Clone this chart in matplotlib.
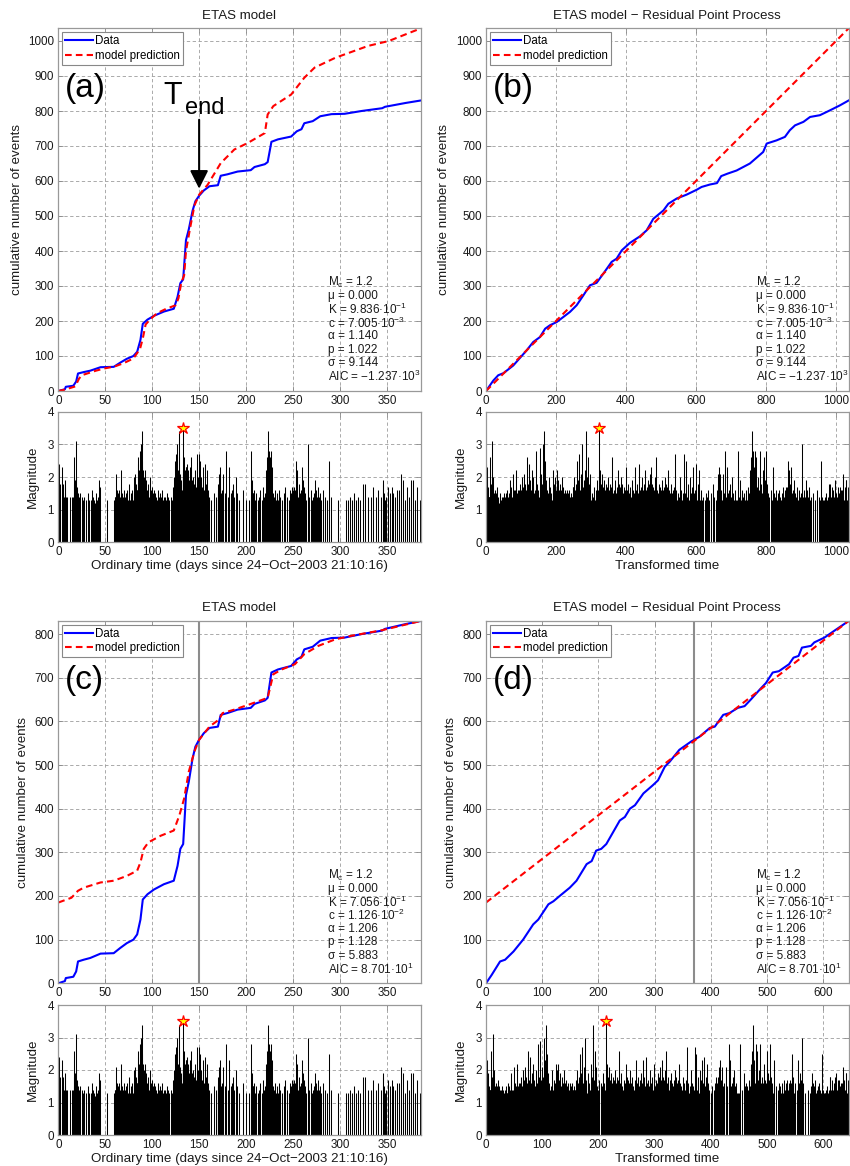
import numpy as np
import matplotlib
matplotlib.use('Agg')
import matplotlib.pyplot as plt

plt.rcParams['font.family'] = ['Liberation Sans', 'DejaVu Sans']
plt.rcParams['mathtext.fontset'] = 'custom'
plt.rcParams['mathtext.rm'] = 'Liberation Sans'
plt.rcParams['mathtext.it'] = 'Liberation Sans:italic'
plt.rcParams['mathtext.bf'] = 'Liberation Sans:bold'

# ---------------- data ----------------
T_END = 150.0

# observed cumulative count vs ordinary time (days)
DATA_T = [0, 7, 8, 16, 19, 21, 27, 34, 45, 59, 66, 73, 80, 84, 87.5, 90, 95, 102, 112.5, 123,
          127, 130, 133, 136, 139, 143, 146, 150, 155, 161, 170, 173, 180, 191, 205, 209, 220, 223, 227, 234,
          248, 254, 259, 262, 271, 279, 291, 305, 323, 345, 348, 370, 386]
DATA_N = [0, 5, 12, 15, 27, 50, 54, 58, 68, 69, 81, 92, 100, 112, 146, 192, 204, 215, 227, 235,
          269, 308, 319, 431, 462, 515, 542, 558, 573, 585, 588, 615, 619, 627, 631, 640, 648, 654, 712, 719,
          727, 742, 748, 765, 771, 785, 791, 792, 800, 808, 812, 823, 830]

# model prediction, fit on [0, T_end] (panel a)
MODEL_A_T = [0, 7, 18, 22, 25, 40, 50, 60, 70, 80, 87, 90, 93, 98, 105, 115, 125, 128, 131, 134,
             136, 140, 145, 150, 159, 173, 187.5, 202, 220, 223, 229, 248, 262, 273, 295, 330, 352, 386]
MODEL_A_V = [0, 4, 13, 35, 45, 58, 65, 70, 80, 93, 120, 150, 190, 205, 222, 235, 245, 265, 310, 330,
             400, 460, 530, 561, 589, 651, 690, 709, 737, 790, 814, 847, 895, 924, 952, 986, 1000, 1036]

# model prediction, fit on whole period (panel c)
MODEL_C_T = [0, 14, 21, 27, 45, 59, 73, 84, 87.5, 91, 96, 109, 123, 129, 134, 139, 145, 150, 161, 171,
             175, 187.5, 205, 223, 229, 238, 252, 262, 277, 295, 312, 345, 386]
MODEL_C_V = [185, 196, 212, 219, 231, 235, 246, 258, 277, 308, 323, 338, 350, 385, 423, 485, 531, 558, 588, 604,
             619, 627, 640, 654, 708, 719, 731, 754, 773, 788, 796, 809, 830]

# observed count vs transformed time (panel b)
RES_B_X = [0, 21, 35, 50, 78, 116, 135, 154, 169, 183, 202, 240, 259, 278, 297, 316, 335, 359, 373, 388,
           411, 440, 459, 478, 507, 521, 545, 573, 602, 616, 640, 660, 672, 690, 716, 754, 792, 802, 830, 854,
           868, 883, 907, 926, 954, 983, 1011, 1036]
RES_B_N = [0, 30, 45, 51, 73, 116, 140, 154, 178, 188, 197, 226, 245, 273, 302, 309, 335, 369, 378, 402,
           423, 442, 459, 492, 516, 535, 550, 561, 575, 583, 590, 594, 614, 621, 630, 650, 683, 707, 716, 726,
           745, 759, 769, 783, 788, 802, 816, 830]

# observed count vs transformed time (panel d)
RES_D_X = [0, 10, 25, 34, 49, 66, 84, 93, 111, 120, 131, 149, 161, 179, 188, 196, 205, 214, 238, 247,
           256, 265, 280, 297, 306, 318, 327, 344, 365, 380, 398, 407, 422, 433, 448, 460, 471, 487, 498, 510,
           521, 539, 547, 556, 562, 578, 584, 602, 620, 645]
RES_D_N = [0, 19, 50, 54, 73, 100, 135, 146, 181, 188, 200, 219, 235, 273, 280, 304, 308, 319, 373, 381,
           400, 408, 435, 454, 465, 496, 508, 535, 554, 565, 585, 588, 615, 619, 631, 635, 650, 673, 688, 712,
           715, 731, 746, 750, 769, 773, 781, 792, 808, 830]

# event magnitudes, in order of occurrence
MAGNITUDES = [
    2.4, 1.8, 2.3, 1.8, 1.4,
    1.9, 1.7, 1.4, 1.3, 1.5, 1.4, 1.3,
    1.4, 1.4, 1.4,
    1.4, 1.3, 2.6, 1.5, 1.8, 1.4, 1.3, 1.9, 1.5, 1.4,
    3.1, 1.3, 1.6, 2.0, 1.4, 1.3, 1.5, 1.4, 1.2, 1.3,
    1.6, 1.4, 1.3, 1.5, 1.2, 1.4, 1.3, 1.7, 1.4, 1.3,
    1.2, 1.5, 1.4, 1.3, 1.4,
    1.4, 1.5, 1.4, 1.3,
    1.4, 1.3, 1.5, 1.3, 1.3, 1.6, 1.4, 1.3, 1.2, 1.5, 1.3, 1.4, 1.9, 1.7,
    1.3,
    1.3, 1.4, 1.4, 1.3, 2.1, 1.6, 1.4, 1.5, 1.3, 1.6,
    1.5, 1.4, 2.2, 1.7, 1.3, 1.5, 1.4, 1.3, 1.6, 1.2,
    1.4, 1.5, 1.3,
    1.6, 1.3, 1.8, 1.3, 1.5, 1.4, 1.6, 1.3, 2.0, 1.5,
    1.4, 1.7, 1.6, 1.3, 2.1, 1.5, 1.4, 1.8, 1.6, 1.3,
    1.5, 1.3, 1.6, 1.4, 2.6, 1.3, 1.5, 1.7, 1.4, 1.3,
    1.8, 1.5, 1.4, 2.4, 1.6, 1.3, 1.5, 1.9, 1.4, 1.3,
    1.6, 1.5, 2.2, 1.4, 1.3, 1.7, 1.5, 1.4, 2.0, 1.3,
    1.5, 1.6, 1.4, 2.8, 1.3, 1.5, 1.8, 1.4, 1.6, 1.3,
    1.4, 2.9, 1.5, 1.3, 1.7, 1.4, 1.6, 2.1, 1.3, 1.5,
    1.4, 1.8, 1.3, 1.6, 3.0, 1.5, 1.4, 1.3, 2.3, 1.6,
    3.4, 1.5, 1.4, 2.5, 1.3, 1.7, 1.5, 1.4, 1.9, 1.3,
    1.6, 1.4, 1.5, 2.0, 1.3, 1.4, 1.7, 1.5, 1.3, 1.6,
    2.2, 1.8, 2.0, 1.6, 1.5, 2.2, 1.7, 1.4, 1.9, 1.6,
    1.5, 1.3, 1.8, 1.6, 1.4, 1.5, 2.0, 1.3, 1.6, 1.7,
    1.4, 1.5, 1.3,
    1.6, 1.5, 1.4, 1.3, 1.6, 1.4, 1.3, 1.5, 1.4, 1.6,
    1.3, 1.4, 1.4, 1.3, 1.5, 1.4, 1.3, 1.4, 1.3, 1.7,
    1.7, 1.4, 1.3, 2.0, 1.5, 1.6, 1.3, 1.4, 1.8, 1.5,
    1.3, 2.5, 1.4, 1.6, 1.5, 1.3, 1.9, 1.4, 1.5, 1.7,
    1.3, 2.7, 1.4, 1.6, 1.3, 1.5, 1.8, 1.4, 2.1, 1.3,
    1.5, 1.4, 1.6, 3.0, 1.3, 1.5, 1.7, 1.4, 1.3, 1.9,
    1.5, 1.6, 1.4, 2.2, 1.3, 1.5, 1.4, 1.8, 1.6, 1.3,
    3.4, 1.4, 1.5, 2.0, 1.3, 1.6, 1.4, 1.7, 1.5, 1.3,
    2.6, 1.4, 1.5, 1.3, 1.8, 1.6, 1.4, 2.1, 1.3, 1.5,
    1.4, 1.7, 1.3, 1.6, 1.5, 1.4, 1.9, 1.3, 1.5, 1.6,
    1.4, 1.3, 2.0, 1.5,
    3.5, 2.2, 1.6, 1.4, 2.0, 1.5, 1.3, 1.8, 1.4, 1.6,
    1.3, 1.5, 2.1, 1.4, 1.3, 1.7, 1.5, 1.4, 1.6, 1.3,
    1.9, 1.4, 1.5, 1.3, 1.6, 1.4, 1.8, 1.3, 1.5, 1.4,
    1.7, 1.3, 1.6, 1.5, 1.4, 2.0, 1.3, 1.5, 1.4, 1.6,
    1.3, 1.8, 1.5, 1.4, 1.3, 1.7, 1.6, 1.4, 1.5, 1.3,
    2.6, 1.4, 1.5, 1.3, 1.6, 1.4, 1.9, 1.5, 1.3, 1.4,
    1.7, 1.5, 1.3, 1.6, 1.4, 2.2, 1.3, 1.5, 1.4, 1.8,
    1.6, 1.3, 1.5, 1.4, 1.7, 1.3, 1.6, 1.5, 1.4, 2.0,
    1.3, 1.5, 1.4, 1.6, 1.8, 1.3, 1.5, 1.4, 1.7, 1.3,
    1.6, 1.4, 1.5, 2.3, 1.3, 1.4, 1.6, 1.5, 1.3, 1.8,
    1.4, 1.5, 1.3, 1.7, 1.6, 1.4, 1.3, 1.5, 1.9, 1.4,
    1.6, 1.3,
    1.5, 2.3, 1.4, 1.6, 1.3, 1.8, 1.5, 1.4, 2.4, 1.3,
    1.6, 1.5, 1.4, 1.7, 1.3, 1.5, 2.0, 1.4, 1.6, 1.3,
    1.8, 1.5, 1.4, 1.3, 2.2, 1.6, 1.4, 1.5, 1.3, 1.7,
    1.4, 1.6, 1.3, 1.9, 1.5, 1.4, 1.6, 1.3, 1.5, 1.8,
    1.4, 1.3, 1.6, 1.5, 2.1, 1.4, 1.3, 1.7, 1.5, 1.6,
    2.3, 1.4, 1.3, 1.5, 1.6, 1.4, 1.8, 1.3, 1.5, 1.4,
    1.7, 1.3, 1.6, 1.5, 2.0, 1.4, 1.3, 1.5, 2.6, 1.4,
    1.6, 1.3, 1.5, 1.8, 1.4, 1.3, 1.7, 1.5, 1.6, 1.4,
    1.3, 1.9, 1.5, 1.4, 1.6, 1.3, 1.5, 1.7, 1.4, 1.3,
    2.0, 1.5, 1.6, 1.4, 1.3, 1.8, 1.5, 1.4, 1.6, 1.3,
    1.7, 1.5, 1.4, 2.2, 1.3, 1.6, 1.5, 1.4, 1.3, 1.8,
    1.5, 1.6, 1.4, 1.3, 1.7, 1.5, 2.7, 1.4, 1.6, 1.3,
    1.5, 1.4, 2.0, 1.6, 1.3, 1.5, 1.4,
    2.7, 1.5, 2.5, 1.4, 1.8, 1.6, 1.3, 2.0, 1.5, 1.4,
    1.7, 1.3, 2.3, 1.5, 1.6, 1.4, 2.4, 1.3, 1.5, 1.8,
    1.4, 2.2, 1.3, 1.6, 1.5, 1.3, 1.4,
    1.3, 1.5, 1.4, 1.6, 1.3, 1.5, 1.8, 1.4, 1.3, 1.6,
    1.5, 1.4, 1.8, 1.3, 1.5, 2.1, 1.4, 1.6, 1.3, 1.5,
    2.3, 1.4, 1.7, 1.5, 1.3, 2.1, 1.6, 1.4, 1.5, 1.3,
    1.6, 2.1, 1.5, 2.8, 1.4, 2.3, 1.5, 1.6, 1.8, 1.4,
    2.0, 1.5, 1.3, 1.6, 1.3, 1.3,
    1.3, 2.8, 1.4, 1.9, 1.5, 1.3, 1.5, 1.6, 1.4, 1.3,
    1.5, 1.3, 1.4, 1.6, 1.3, 1.7, 1.4, 1.5, 2.2, 1.3,
    1.6, 2.6, 1.5,
    3.4, 1.6, 2.8, 1.5, 1.4, 2.3, 1.6, 1.3, 2.8, 1.5,
    1.4, 2.6, 1.3, 1.7, 1.5, 1.4, 2.0, 1.6, 1.3, 1.5,
    2.8, 1.4, 1.6, 1.3, 1.8, 1.5, 1.4, 1.6, 1.3, 2.2,
    1.5, 1.4, 1.7, 1.3, 1.6, 1.5, 2.6, 1.4, 1.3, 1.5,
    1.9, 1.4, 1.6, 1.3, 1.5, 1.7, 1.4, 2.8, 1.3, 1.5,
    1.6, 1.4, 1.3, 1.8, 1.5, 1.4, 1.6, 1.3, 2.3, 1.5,
    1.4, 1.6, 1.3, 1.5, 1.3,
    1.6, 1.4, 1.3, 1.5, 1.7, 1.4, 1.3, 1.6, 1.5, 1.7,
    1.4, 1.3, 1.5, 1.6, 1.4, 1.3, 1.7, 1.5, 1.4, 1.6,
    2.5, 1.3, 1.5,
    2.2, 1.4, 1.8, 1.5, 1.3, 1.6, 1.4, 2.3, 1.5, 1.3,
    1.4, 1.6, 1.3, 1.5, 1.4, 1.9, 1.3, 1.5, 1.4, 1.7,
    1.3, 1.6, 1.4, 1.5, 1.3, 3.0, 1.4, 1.6, 1.3,
    1.4, 1.3, 1.5, 1.9, 1.4, 1.3, 1.6, 1.4, 1.3, 1.5,
    1.7, 1.3, 1.4, 1.5, 1.3, 1.6, 1.4, 1.3, 2.5, 1.4,
    1.3, 1.3, 1.3, 1.4, 1.3, 1.5, 1.3, 1.4, 1.3,
    1.8, 1.8, 1.4, 1.4, 1.7, 1.4, 1.6, 1.4, 1.8, 1.9, 1.5, 1.3,
    1.4, 1.7, 1.5, 1.7, 1.5, 1.4, 1.6, 1.6, 2.1, 1.9, 1.3, 1.7, 1.4, 1.9, 1.9, 1.3, 1.7, 1.3,
]

PARAM_LABELS = ['M$_\\mathregular{c}$', '\u03bc', 'K', 'c', '\u03b1', 'p', '\u03c3', 'AIC']
PARAMS_AB = ['1.2', '0.000', '9.836\u00b710$^{\\mathregular{-1}}$', '7.005\u00b710$^{\\mathregular{-3}}$',
             '1.140', '1.022', '9.144', '\u22121.237\u00b710$^{\\mathregular{3}}$']
PARAMS_CD = ['1.2', '0.000', '7.056\u00b710$^{\\mathregular{-1}}$', '1.126\u00b710$^{\\mathregular{-2}}$',
             '1.206', '1.128', '5.883', '8.701\u00b710$^{\\mathregular{1}}$']

XLABEL_ORD = 'Ordinary time (days since 24\u2212Oct\u22122003 21:10:16)'
XLABEL_TR = 'Transformed time'

# ---------------- derived quantities ----------------
mags = np.array(MAGNITUDES)
N = len(mags)
ev_n = (np.arange(N) + 0.5) * DATA_N[-1] / N
ev_t = np.interp(ev_n, DATA_N, DATA_T)
ev_b = np.interp(ev_n, RES_B_N, RES_B_X)
ev_d = np.interp(ev_n, RES_D_N, RES_D_X)
i_star = int(np.argmax(mags))
n_end = np.interp(T_END, DATA_T, DATA_N)
d_end = np.interp(n_end, RES_D_N, RES_D_X)
TMAX = DATA_T[-1]
A_TOT = MODEL_A_V[-1]
C0, C1 = MODEL_C_V[0], MODEL_C_V[-1]

# ---------------- figure ----------------
W, H = 850, 1166
fig = plt.figure(figsize=(W / 100, H / 100), dpi=100)


def axes_px(left, top, right, bottom):
    return fig.add_axes([left / W, 1 - bottom / H, (right - left) / W, (bottom - top) / H])


GRID = dict(linestyle=(0, (4, 3)), color='#9c9c9c', linewidth=0.6)
TXT = '#1a1a1a'


def style(ax, xlim, ylim, xticks, yticks):
    ax.set_xlim(*xlim)
    ax.set_ylim(*ylim)
    ax.set_xticks(xticks)
    ax.set_yticks(yticks)
    ax.grid(True, **GRID)
    ax.set_axisbelow(True)
    ax.tick_params(direction='in', length=3.5, width=0.6, color='#888888', labelsize=8.4,
                   labelcolor=TXT, top=True, right=True, pad=3)
    for s in ax.spines.values():
        s.set_color('#999999')
        s.set_linewidth(0.9)


LEFT = (58.3, 420.7)
RIGHT = (486.0, 848.6)
ROWS_MAIN = [(28.4, 391.0), (621.0, 983.3)]
ROWS_BAR = [(411.7, 542.3), (1005.0, 1135.0)]

blue = '#0000ff'
red = '#ff0000'


def main_panel(ax, title, letter):
    ax.set_title(title, fontsize=9.6, pad=7, color=TXT)
    ax.set_ylabel('cumulative number of events', fontsize=9.6, color=TXT, labelpad=4)
    leg = ax.legend(loc='upper left', fontsize=8.3, frameon=True, fancybox=False, edgecolor='#888888',
                    framealpha=1, handlelength=2.4, borderpad=0.25, labelspacing=0.2,
                    handletextpad=0.2, borderaxespad=0.35)
    leg.get_frame().set_linewidth(0.8)
    ax.text(0.018, 0.835, letter, transform=ax.transAxes, fontsize=24, ha='left', va='center', color='k')


def params(ax, values):
    for k, (lab, val) in enumerate(zip(PARAM_LABELS, values)):
        ax.text(0.745, 0.298 - k * 0.0369, f'{lab} = {val}', transform=ax.transAxes,
                fontsize=8.5, ha='left', va='center', color=TXT)


def bar_panel(ax, x, xlim, xticks, xlabel):
    ax.vlines(x, 0, mags, colors='k', linewidth=0.75)
    ax.plot([x[i_star]], [mags[i_star]], marker='*', markersize=9, markerfacecolor='#ffff00',
            markeredgecolor=red, markeredgewidth=0.9, linestyle='none')
    style(ax, xlim, (0, 4), xticks, [0, 1, 2, 3, 4])
    ax.set_ylabel('Magnitude', fontsize=9.6, color=TXT, labelpad=6)
    ax.set_xlabel(xlabel, fontsize=9.6, color=TXT, labelpad=1)


dash = (0, (3.2, 2.0))

# (a)
ax = axes_px(LEFT[0], ROWS_MAIN[0][0], LEFT[1], ROWS_MAIN[0][1])
ax.plot(DATA_T, DATA_N, color=blue, lw=1.5, label='Data')
ax.plot(MODEL_A_T, MODEL_A_V, color=red, lw=1.5, linestyle=dash, label='model prediction')
style(ax, (0, TMAX), (0, A_TOT), np.arange(0, 351, 50), np.arange(0, 1001, 100))
main_panel(ax, 'ETAS model', '(a)')
params(ax, PARAMS_AB)
ax.annotate('', xy=(T_END, 578), xytext=(T_END, 775),
            arrowprops=dict(arrowstyle='-|>,head_length=1.1,head_width=0.55', color='k', lw=1.5,
                            mutation_scale=10, shrinkA=0, shrinkB=0))
ax.text(111.5, 821, 'T', fontsize=22, ha='left', va='baseline', color='k')
ax.text(135, 792, 'end', fontsize=17, ha='left', va='baseline', color='k')

ax = axes_px(LEFT[0], ROWS_BAR[0][0], LEFT[1], ROWS_BAR[0][1])
bar_panel(ax, ev_t, (0, TMAX), np.arange(0, 351, 50), XLABEL_ORD)

# (b)
ax = axes_px(RIGHT[0], ROWS_MAIN[0][0], RIGHT[1], ROWS_MAIN[0][1])
ax.plot(RES_B_X, RES_B_N, color=blue, lw=1.5, label='Data')
ax.plot([0, A_TOT], [0, A_TOT], color=red, lw=1.5, linestyle=dash, label='model prediction')
style(ax, (0, A_TOT), (0, A_TOT), np.arange(0, 1001, 200), np.arange(0, 1001, 100))
main_panel(ax, 'ETAS model \u2212 Residual Point Process', '(b)')
params(ax, PARAMS_AB)

ax = axes_px(RIGHT[0], ROWS_BAR[0][0], RIGHT[1], ROWS_BAR[0][1])
bar_panel(ax, ev_b, (0, A_TOT), np.arange(0, 1001, 200), XLABEL_TR)

# (c)
ax = axes_px(LEFT[0], ROWS_MAIN[1][0], LEFT[1], ROWS_MAIN[1][1])
ax.axvline(T_END, color='#8c8c8c', lw=1.5)
ax.plot(DATA_T, DATA_N, color=blue, lw=1.5, label='Data')
ax.plot(MODEL_C_T, MODEL_C_V, color=red, lw=1.5, linestyle=dash, label='model prediction')
style(ax, (0, TMAX), (0, C1), np.arange(0, 351, 50), np.arange(0, 801, 100))
main_panel(ax, 'ETAS model', '(c)')
params(ax, PARAMS_CD)

ax = axes_px(LEFT[0], ROWS_BAR[1][0], LEFT[1], ROWS_BAR[1][1])
bar_panel(ax, ev_t, (0, TMAX), np.arange(0, 351, 50), XLABEL_ORD)

# (d)
ax = axes_px(RIGHT[0], ROWS_MAIN[1][0], RIGHT[1], ROWS_MAIN[1][1])
ax.axvline(d_end, color='#8c8c8c', lw=1.5)
ax.plot(RES_D_X, RES_D_N, color=blue, lw=1.5, label='Data')
ax.plot([0, C1 - C0], [C0, C1], color=red, lw=1.5, linestyle=dash, label='model prediction')
style(ax, (0, C1 - C0), (0, C1), np.arange(0, 601, 100), np.arange(0, 801, 100))
main_panel(ax, 'ETAS model \u2212 Residual Point Process', '(d)')
params(ax, PARAMS_CD)

ax = axes_px(RIGHT[0], ROWS_BAR[1][0], RIGHT[1], ROWS_BAR[1][1])
bar_panel(ax, ev_d, (0, C1 - C0), np.arange(0, 601, 100), XLABEL_TR)

fig.savefig('out.png', dpi=100)
